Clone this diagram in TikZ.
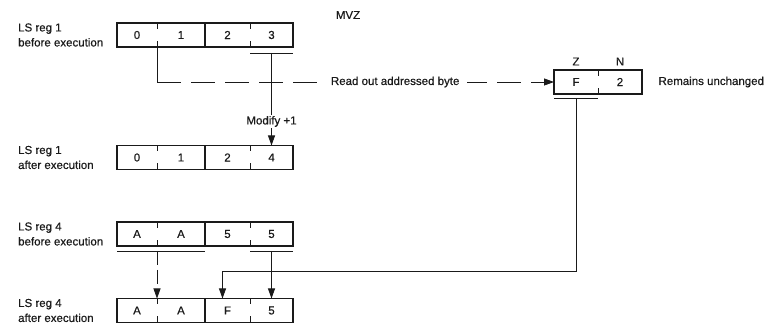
\documentclass[tikz,border=0pt]{standalone}
\usepackage{fontspec}
\setmainfont{Liberation Sans}
\newfontfamily\medfont[FakeBold=0.6]{Liberation Sans}
\usepackage{xcolor}
\usepackage{tikz}
\usetikzlibrary{arrows.meta,positioning,calc}
\definecolor{ink}{HTML}{1A1A1A}
\newcommand{\lblfont}{\medfont\fontsize{11.5}{15}\selectfont}
\tikzset{
  regbox/.style ={draw=ink,line width=1.2pt,minimum width=176pt,minimum height=24pt,
                  inner sep=0pt,outer sep=0pt},
  cell/.style   ={minimum height=24pt,inner sep=0pt,outer sep=0pt,font=\lblfont,text=ink},
  cellA/.style  ={cell,minimum width=40pt},
  cellB/.style  ={cell,minimum width=48pt},
  cellC/.style  ={cell,minimum width=45pt},
  cellD/.style  ={cell,minimum width=43pt},
  regline/.style={draw=ink,line width=1.1pt},
  tick/.style   ={draw=ink,line width=1pt},
  uline/.style  ={draw=ink,line width=0.9pt},
  lbl/.style    ={align=left,font=\lblfont,text=ink,inner sep=0pt,anchor=west},
  flow/.style   ={-{Triangle[length=10pt,width=7pt]},line width=0.8pt,draw=ink},
  readout/.style={-{Triangle[length=10pt,width=7pt]},line width=0.8pt,draw=ink,
                  dash pattern=on 24pt off 10pt}
}
% one local storage register: name, position, four cell texts
\newcommand{\lsreg}[6]{%
  \node[regbox] (#1) at #2 {};
  \node[cellA,anchor=west] (#1-1) at (#1.west) {#3};
  \node[cellB,right=0pt of #1-1] (#1-2) {#4};
  \node[cellC,right=0pt of #1-2] (#1-3) {#5};
  \node[cellD,right=0pt of #1-3] (#1-4) {#6};
  \draw[regline] (#1-2.north east) -- (#1-2.south east);
  \foreach \c in {1,3} {
    \draw[tick] (#1-\c.north east) -- ++(0pt,-6pt);
    \draw[tick] (#1-\c.south east) -- ++(0pt,6pt);
  }
}
\begin{document}
\begin{tikzpicture}[x=1pt,y=-1pt]
  \useasboundingbox (0,0) rectangle (765,328);
  \coordinate (lm) at (18,0);
  \node[font=\lblfont,text=ink] (title) at (348,15) {MVZ};
  % registers
  \lsreg{r1b}{(205,35)}{0}{1}{2}{3}
  \lsreg{r1a}{(205,157.5)}{0}{1}{2}{4}
  \lsreg{r4b}{(205,234)}{A}{A}{5}{5}
  \lsreg{r4a}{(205,310.5)}{A}{A}{F}{5}
  \node[lbl] (r1b-lbl) at (lm |- r1b) {LS reg 1\\before execution};
  \node[lbl] (r1a-lbl) at (lm |- r1a) {LS reg 1\\after execution};
  \node[lbl] (r4b-lbl) at (lm |- r4b) {LS reg 4\\before execution};
  \node[lbl] (r4a-lbl) at (lm |- r4a) {LS reg 4\\after execution};
  % Z/N byte
  \node[regbox,minimum width=88pt] (zn) at (598,82) {};
  \node[cell,minimum width=44pt,anchor=west] (zn-1) at (zn.west) {F};
  \node[cell,minimum width=44pt,right=0pt of zn-1] (zn-2) {2};
  \draw[tick] (zn-1.north east) -- ++(0pt,-6pt);
  \draw[tick] (zn-1.south east) -- ++(0pt,6pt);
  \node[font=\lblfont,text=ink,above=1pt of zn-1] (zlbl) {Z};
  \node[font=\lblfont,text=ink,above=1pt of zn-2] (nlbl) {N};
  \node[font=\lblfont,text=ink,right=13pt of zn] (keep) {Remains unchanged};
  % underlines of the fields used
  \draw[uline] ([yshift=-6pt]r1b-4.south west) -- ([yshift=-6pt]r1b-4.south east);
  \draw[uline] ([yshift=-5pt]r4b-1.south west) -- ([yshift=-5pt]r4b-2.south east);
  \draw[uline] ([yshift=-5pt]r4b-4.south west) -- ([yshift=-5pt]r4b-4.south east);
  \draw[uline] ([yshift=-4pt]zn-1.south west) -- ([yshift=-4pt]zn-1.south east);
  \coordinate (r1b-ul) at ([yshift=-6pt]r1b-4.south);
  \coordinate (r4b-ulA) at ([yshift=-5pt]r4b-1.south east);
  \coordinate (r4b-ul5) at ([yshift=-5pt]r4b-4.south);
  \coordinate (zn-ul) at ([yshift=-4pt]zn-1.south);
  \coordinate (r4a-fin) at ([xshift=-5pt]r4a-3.north);
  \coordinate (rdcorner) at (r1b-1.south east |- zn.west);
  % connectors
  \draw[uline,line width=0.8pt] (r1b-1.south east) -- (rdcorner);
  \draw[readout] (rdcorner) -- node[pos=0.6,fill=white,font=\lblfont,text=ink,
        inner xsep=8pt] (rdlbl) {Read out addressed byte} (zn.west);
  \draw[flow] (r1b-ul) -- node[pos=0.74,fill=white,font=\lblfont,text=ink,inner sep=1pt]
        (modlbl) {Modify +1} (r1a-4.north);
  \draw[readout,dash pattern=on 14pt off 5pt] (r4b-ulA) -- (r4a-1.north east);
  \draw[flow] (r4b-ul5) -- (r4a-4.north);
  \draw[flow] (zn-ul) -- ++(0,173) -| (r4a-fin);
\end{tikzpicture}
\end{document}
